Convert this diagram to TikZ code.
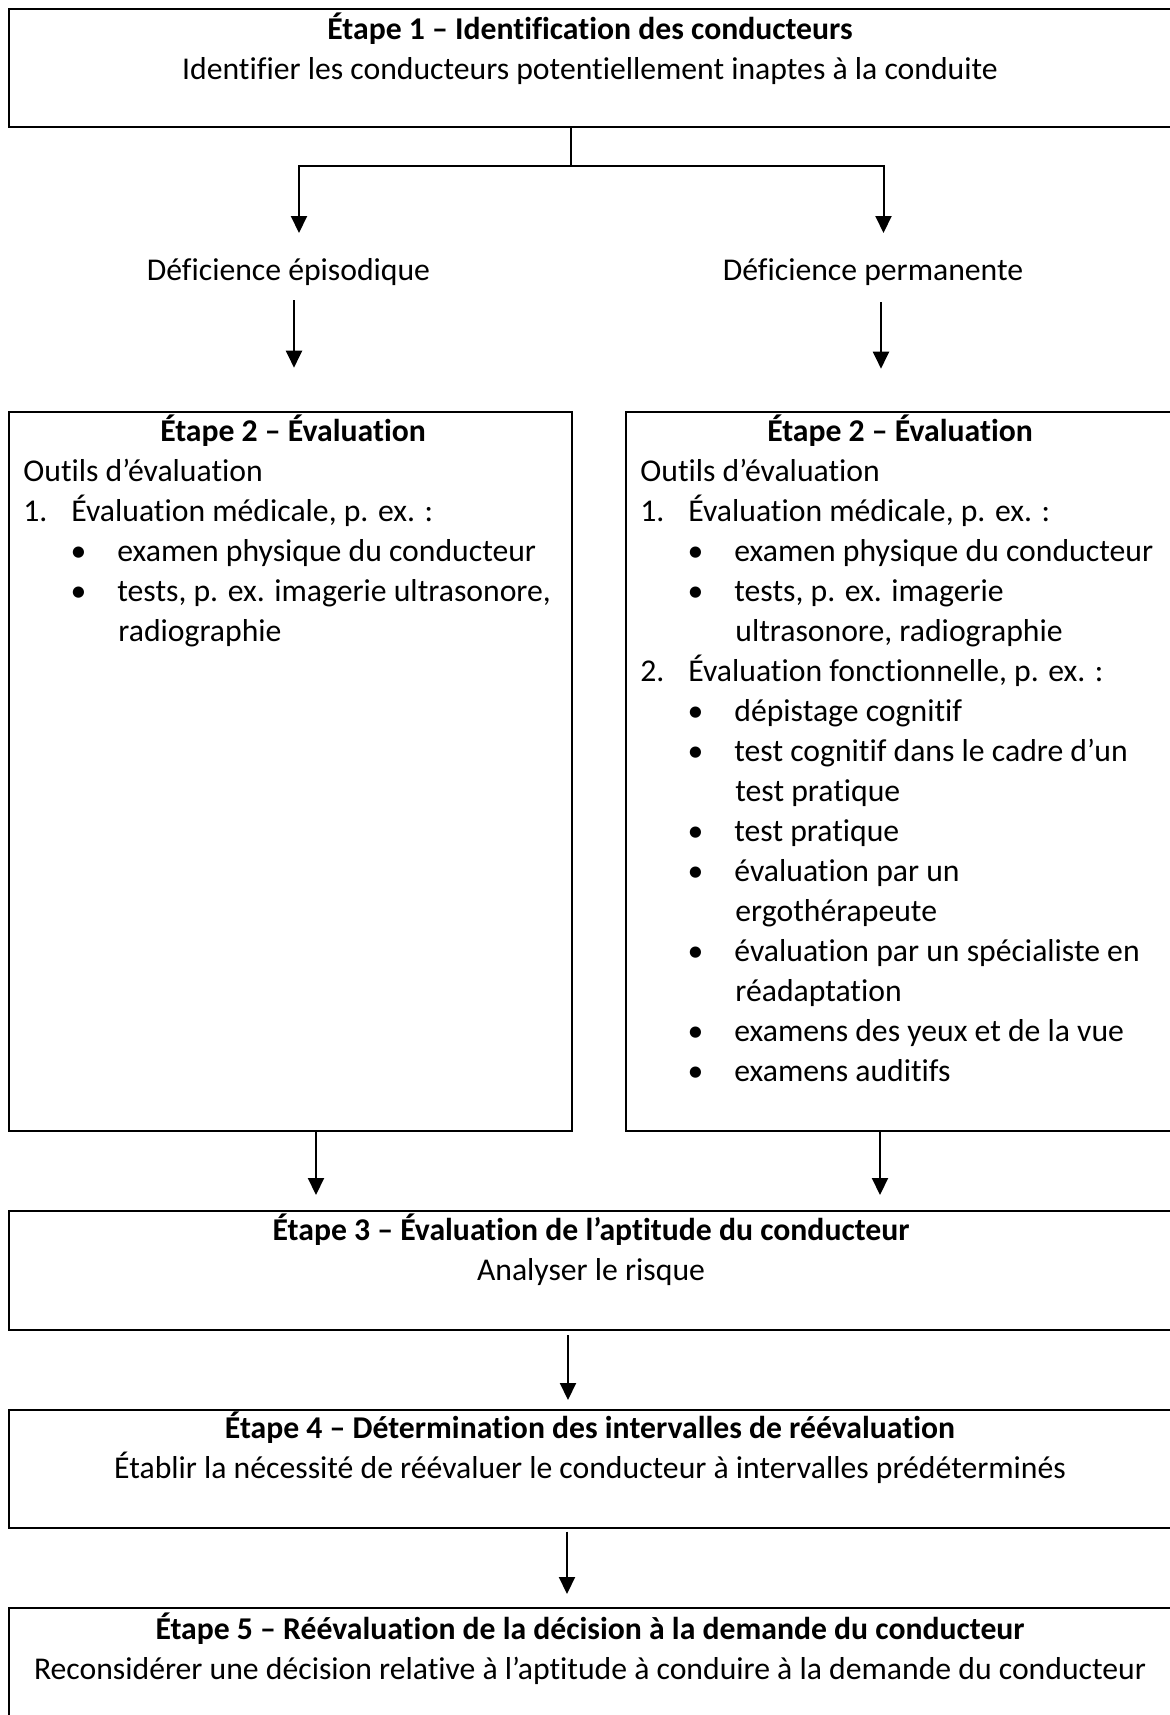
\documentclass[tikz,border=0pt]{standalone}
\usepackage{fontspec}
\setmainfont{Carlito}[Ligatures={TeX,NoCommon}]
\usetikzlibrary{arrows.meta}
\begin{document}
\begin{tikzpicture}[x=0.5pt,y=-0.5pt,
  font=\fontsize{15.85pt}{20pt}\selectfont,
  box/.style={draw, line width=1pt, inner sep=0pt, anchor=north west},
  ttl/.style={inner sep=0pt, anchor=base, font=\fontsize{15.85pt}{20pt}\selectfont\bfseries},
  ctr/.style={inner sep=0pt, anchor=base},
  lft/.style={inner sep=0pt, anchor=base west},
  bul/.style={inner sep=0pt, anchor=base},
  arr/.style={line width=1pt, -{Triangle[width=8pt,length=8.5pt]}}]
\useasboundingbox (0,0) rectangle (1169,1715);

% boxes
\node[box, minimum width=582.15pt, minimum height=59.15pt] (s1) at (7.7,7.7) {};
\node[box, minimum width=281.65pt, minimum height=359.65pt] (e2l) at (7.7,410.7) {};
\node[box, minimum width=275.15pt, minimum height=359.65pt] (e2r) at (624.7,410.7) {};
\node[box, minimum width=582.15pt, minimum height=59.5pt] (s3) at (7.7,1210) {};
\node[box, minimum width=582.15pt, minimum height=58.75pt] (s4) at (7.7,1409) {};
\node[box, minimum width=582.15pt, minimum height=59pt] (s5) at (7.7,1607) {};

% step 1
\node[ttl] (t1) at (590,39) {Étape 1 – Identification des conducteurs};
\node[ctr] (t1b) at (590,79) {Identifier les conducteurs potentiellement inaptes à la conduite};

% branch labels
\node[ctr] (d1) at (288.5,280) {Déficience épisodique};
\node[ctr] (d2) at (873,280) {Déficience permanente};

% left step 2
\node[ttl] (l0) at (293,441) {Étape 2 – Évaluation};
\node[lft] (l1) at (23,481) {Outils d’évaluation};
\node[lft] (l2n) at (23,521) {1.};
\node[lft] (l2) at (71,521) {Évaluation médicale, p. ex. :};
\node[bul] (l3b) at (78.5,561) {•};
\node[lft] (l3) at (117,561) {examen physique du conducteur};
\node[bul] (l4b) at (78.5,601) {•};
\node[lft] (l4) at (117,601) {tests, p. ex. imagerie ultrasonore,};
\node[lft] (l5) at (118,641) {radiographie};

% right step 2
\node[ttl] (r0) at (900,441) {Étape 2 – Évaluation};
\node[lft] (r1) at (640,481) {Outils d’évaluation};
\node[lft] (r2n) at (640,521) {1.};
\node[lft] (r2) at (688,521) {Évaluation médicale, p. ex. :};
\node[bul] (r3b) at (695.5,561) {•};
\node[lft] (r3) at (734,561) {examen physique du conducteur};
\node[bul] (r4b) at (695.5,601) {•};
\node[lft] (r4) at (734,601) {tests, p. ex. imagerie};
\node[lft] (r5) at (735,641) {ultrasonore, radiographie};
\node[lft] (r6n) at (640,681) {2.};
\node[lft] (r6) at (688,681) {Évaluation fonctionnelle, p. ex. :};
\node[bul] (r7b) at (695.5,721) {•};
\node[lft] (r7) at (734,721) {dépistage cognitif};
\node[bul] (r8b) at (695.5,761) {•};
\node[lft] (r8) at (734,761) {test cognitif dans le cadre d’un};
\node[lft] (r9) at (735,801) {test pratique};
\node[bul] (r10b) at (695.5,841) {•};
\node[lft] (r10) at (734,841) {test pratique};
\node[bul] (r11b) at (695.5,881) {•};
\node[lft] (r11) at (734,881) {évaluation par un};
\node[lft] (r12) at (735,921) {ergothérapeute};
\node[bul] (r13b) at (695.5,961) {•};
\node[lft] (r13) at (734,961) {évaluation par un spécialiste en};
\node[lft] (r14) at (735,1001) {réadaptation};
\node[bul] (r15b) at (695.5,1041) {•};
\node[lft] (r15) at (734,1041) {examens des yeux et de la vue};
\node[bul] (r16b) at (695.5,1081) {•};
\node[lft] (r16) at (734,1081) {examens auditifs};

% step 3
\node[ttl] (t3) at (591,1240) {Étape 3 – Évaluation de l’aptitude du conducteur};
\node[ctr] (t3b) at (591,1280) {Analyser le risque};

% step 4
\node[ttl] (t4) at (590,1438) {Étape 4 – Détermination des intervalles de réévaluation};
\node[ctr] (t4b) at (590,1478) {Établir la nécessité de réévaluer le conducteur à intervalles prédéterminés};

% step 5
\node[ttl] (t5) at (590,1639) {Étape 5 – Réévaluation de la décision à la demande du conducteur};
\node[ctr] (t5b) at (590,1679) {Reconsidérer une décision relative à l’aptitude à conduire à la demande du conducteur};

% connectors
\coordinate (sp) at (571,166);
\coordinate (a1) at (299,233);
\coordinate (a2) at (883.5,233);
\draw[line width=1pt] (s1.south -| sp) -- (sp);
\draw[arr] (sp) -| (a1);
\draw[arr] (sp) -| (a2);

\coordinate (b1) at (294,300);
\coordinate (b2) at (881,302);
\draw[arr, shorten >=21.5pt] (b1) -- (b1 |- e2l.north);
\draw[arr, shorten >=21pt] (b2) -- (b2 |- e2r.north);

\coordinate (c1) at (316,0);
\coordinate (c2) at (880,0);
\draw[arr, shorten >=7.5pt] (c1 |- e2l.south) -- (c1 |- s3.north);
\draw[arr, shorten >=7.5pt] (c2 |- e2r.south) -- (c2 |- s3.north);

\coordinate (c3) at (568,0);
\draw[arr, shorten <=2pt, shorten >=4.5pt] (c3 |- s3.south) -- (c3 |- s4.north);
\coordinate (c4) at (567,0);
\draw[arr, shorten <=1.5pt, shorten >=6.5pt] (c4 |- s4.south) -- (c4 |- s5.north);
\end{tikzpicture}
\end{document}
